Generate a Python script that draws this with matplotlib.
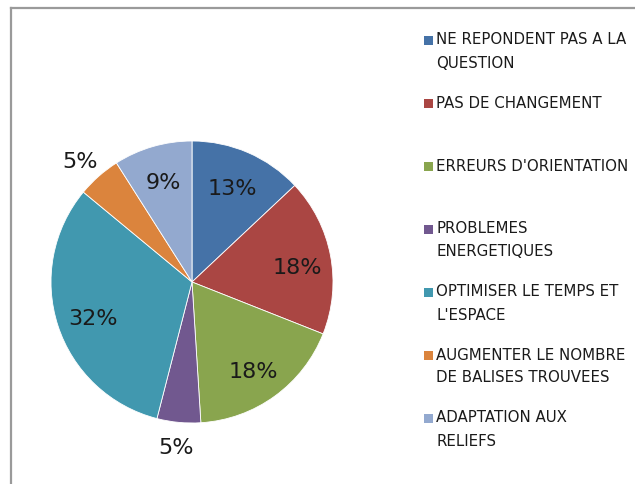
import matplotlib
matplotlib.use("Agg")
import matplotlib.pyplot as plt
from matplotlib.patches import Rectangle
from matplotlib.lines import Line2D
import math

categories = ["NE REPONDENT PAS A LA\nQUESTION", "PAS DE CHANGEMENT",
              "ERREURS D'ORIENTATION", "PROBLEMES\nENERGETIQUES",
              "OPTIMISER LE TEMPS ET\nL'ESPACE", "AUGMENTER LE NOMBRE\nDE BALISES TROUVEES",
              "ADAPTATION AUX\nRELIEFS"]
values = [13, 18, 18, 5, 32, 5, 9]
colors = ["#4572A7", "#AA4643", "#89A54E", "#71588F", "#4198AF", "#DB843D", "#93A9CF"]

W, H = 635, 484
fig = plt.figure(figsize=(W / 100, H / 100), dpi=100)
fig.patch.set_facecolor("white")

# frame lines (top and left)
fig.add_artist(Line2D([11 / W, 634 / W], [1 - 8 / H, 1 - 8 / H], color="#9a9a9a", lw=1.6, transform=fig.transFigure))
fig.add_artist(Line2D([11 / W, 11 / W], [1 - 8 / H, 0], color="#9a9a9a", lw=1.6, transform=fig.transFigure))

cx, cy, r = 192, 282, 141
ax = fig.add_axes([(cx - r) / W, 1 - (cy + r) / H, 2 * r / W, 2 * r / H])
wedges, _ = ax.pie(values, colors=colors, startangle=90, counterclock=False,
                   radius=1.0, wedgeprops=dict(linewidth=0.6, edgecolor="white"))
ax.set_xlim(-1, 1)
ax.set_ylim(-1, 1)
ax.set_aspect("equal")
ax.axis("off")

# label distances (fraction of radius) per slice
dists = [0.72, 0.76, 0.74, 1.17, 0.74, 1.20, 0.74]
yoffs = [0.0, -0.04, -0.04, -0.01, -0.035, -0.05, -0.01]
total = sum(values)
start = 90.0
for v, d, yo in zip(values, dists, yoffs):
    span = 360.0 * v / total
    mid = math.radians(start - span / 2)
    start -= span
    ax.text(d * math.cos(mid), d * math.sin(mid) + yo, f"{round(100 * v / total)}%",
            ha="center", va="center", fontsize=16, color="#1a1a1a",
            family="DejaVu Sans", clip_on=False)

# legend
top0 = 40
step = 63
line_h = 23
for i, (lab, col) in enumerate(zip(categories, colors)):
    y = top0 + i * step
    fig.add_artist(Rectangle((424 / W, 1 - (y + 4.5) / H), 9 / W, 9 / H,
                             facecolor=col, edgecolor="none", transform=fig.transFigure))
    for j, ln in enumerate(lab.split("\n")):
        fig.text(436 / W, 1 - (y + j * line_h) / H, ln, ha="left", va="center",
                 fontsize=10.8, color="#1a1a1a", family="DejaVu Sans Condensed")

fig.savefig("out.png", dpi=100, facecolor="white")
